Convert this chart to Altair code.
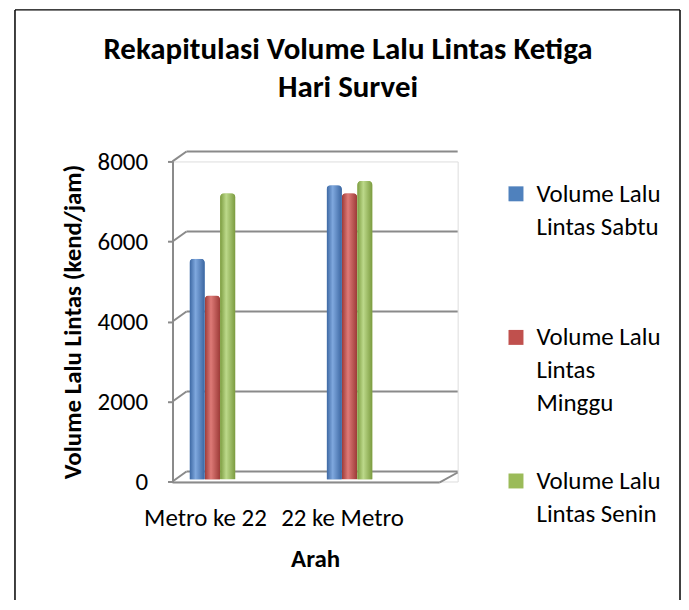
import altair as alt
import pandas as pd

# ---- data ----
arah = ["Metro ke 22", "22 ke Metro"]
series = ["Volume Lalu Lintas Sabtu", "Volume Lalu Lintas Minggu", "Volume Lalu Lintas Senin"]
sabtu = [5400, 7200]
minggu = [4500, 7000]
senin = [7000, 7300]
y_ticks = [0, 2000, 4000, 6000, 8000]

colors = ["#4F81BD", "#C0504D", "#9BBB59"]
dark = ["#3A65A0", "#9C3A37", "#7A9A3E"]
light = ["#7FA8DE", "#DE7A77", "#BCD98A"]

rows = []
for i, a in enumerate(arah):
    for s, vals in zip(series, [sabtu, minggu, senin]):
        rows.append({"Arah": a, "Seri": s, "Volume": vals[i]})
df = pd.DataFrame(rows)
ticks_df = pd.DataFrame({"v": y_ticks})

FONT = "Carlito, Lato, sans-serif"
W, H = 286, 321
DEPTH_X, DEPTH_Y = 14, 10
FRONT_W = W - 18
GREY = "#8A8A8A"
YTITLE = "Volume Lalu Lintas (kend/jam)"

x_scale = alt.Scale(paddingInner=0.665, paddingOuter=0.3725, align=0.166)
xo_scale = alt.Scale(domain=series, paddingInner=0, paddingOuter=0)
y_scale = alt.Scale(domain=[0, 8000])
# bars stand in the middle of the 3D floor: slightly raised base, deeper perspective
bar_y_scale = alt.Scale(domain=[0, 8000], range=[H - 2, H - 2 - 328])

x_axis = alt.Axis(title="Arah", labelAngle=0, labelOffset=-7, ticks=False, domain=False,
                  labelPadding=24, titlePadding=16,
                  labelFontSize=25, titleFontSize=25, titleFontWeight="bold",
                  labelFont=FONT, titleFont=FONT, labelColor="black", titleColor="black")
y_axis = alt.Axis(title=YTITLE, values=y_ticks, format="d", grid=False,
                  domainColor=GREY, domainWidth=2,
                  tickColor=GREY, tickSize=5, tickWidth=2,
                  labelFontSize=25, labelPadding=20, titleFontSize=25, titleFontWeight="bold",
                  titlePadding=12, labelFont=FONT, titleFont=FONT,
                  labelColor="black", titleColor="black")

legend = alt.Legend(title=None, orient="none", legendX=332, legendY=20, padding=0,
                    symbolType="square", symbolSize=225, symbolStrokeWidth=0,
                    labelFontSize=25, labelFont=FONT, labelColor="black",
                    labelOffset=8, labelBaseline="middle", rowPadding=52, labelLimit=300,
                    labelExpr="datum.label == 'Volume Lalu Lintas Minggu' ? ['Volume Lalu', 'Lintas', 'Minggu'] : ['Volume Lalu', replace(datum.label, 'Volume Lalu ', ''), ' ']")

# 3D-like walls: back-wall gridlines, left-wall diagonals, floor
grid = alt.Chart(ticks_df).mark_rule(color=GREY, strokeWidth=2, yOffset=-DEPTH_Y).encode(
    y=alt.Y("v:Q", scale=y_scale, axis=y_axis), x=alt.value(DEPTH_X), x2=alt.value(W))
diag = alt.Chart(ticks_df).mark_rule(color=GREY, strokeWidth=2, y2Offset=-DEPTH_Y).encode(
    y=alt.Y("v:Q", title=YTITLE), y2="v:Q", x=alt.value(0), x2=alt.value(DEPTH_X))
floor_front = alt.Chart(ticks_df).transform_filter(alt.datum.v == 0).mark_rule(
    color=GREY, strokeWidth=2, yOffset=1).encode(y=alt.Y("v:Q", title=YTITLE), x=alt.value(0), x2=alt.value(FRONT_W))
floor_side = alt.Chart(ticks_df).transform_filter(alt.datum.v == 0).mark_rule(
    color=GREY, strokeWidth=2, yOffset=1, y2Offset=-DEPTH_Y + 1).encode(
    y=alt.Y("v:Q", title=YTITLE), y2="v:Q", x=alt.value(FRONT_W), x2=alt.value(W))
walls = alt.layer(grid, diag, floor_front, floor_side)

bars = alt.Chart(df).mark_bar(cornerRadiusTopLeft=4, cornerRadiusTopRight=4).encode(
    x=alt.X("Arah:N", sort=arah, scale=x_scale, axis=x_axis),
    xOffset=alt.XOffset("Seri:N", sort=series, scale=xo_scale),
    y=alt.Y("Volume:Q", scale=bar_y_scale, axis=None),
    color=alt.Color("Seri:N", sort=series, scale=alt.Scale(domain=series, range=colors), legend=legend),
)

bar_layers = [bars]
for s, c0, c1 in zip(series, dark, light):
    grad = alt.Gradient(gradient="linear", x1=0, x2=1, y1=0, y2=0,
                        stops=[alt.GradientStop(offset=0, color=c0),
                               alt.GradientStop(offset=0.4, color=c1),
                               alt.GradientStop(offset=1, color=c0)])
    bar_layers.append(
        alt.Chart(df).transform_filter(alt.datum.Seri == s)
        .mark_bar(color=grad, cornerRadiusTopLeft=4, cornerRadiusTopRight=4)
        .encode(x=alt.X("Arah:N", sort=arah, title="Arah"),
                xOffset=alt.XOffset("Seri:N", sort=series),
                y=alt.Y("Volume:Q", axis=None))
    )
bars_all = alt.layer(*bar_layers)

one = pd.DataFrame({"k": [0]})
left = alt.Chart(one).mark_rule(color="black", strokeWidth=1.5).encode(
    x=alt.value(-158), y=alt.value(-152), y2=alt.value(440))
right = alt.Chart(one).mark_rule(color="black", strokeWidth=1.5).encode(
    x=alt.value(509), y=alt.value(-152), y2=alt.value(440))
top = alt.Chart(one).mark_rule(color="black", strokeWidth=1.5).encode(
    x=alt.value(-158), x2=alt.value(509), y=alt.value(-152))

chart = alt.layer(walls, bars_all, left, right, top).resolve_scale(y="independent").properties(
    width=W, height=H,
    padding={"left": 6, "top": 0, "right": 0, "bottom": 0},
    title=alt.Title(["Rekapitulasi Volume Lalu Lintas Ketiga", "Hari Survei"],
                    fontSize=31, fontWeight="bold", font=FONT, color="black",
                    anchor="middle", offset=-95, dx=33, lineHeight=38),
).configure_view(stroke=None).configure(
    background="white", style={"guide-label": {"lineHeight": 33}})

chart.save("out.html", embed_options={"renderer": "svg", "actions": False})
